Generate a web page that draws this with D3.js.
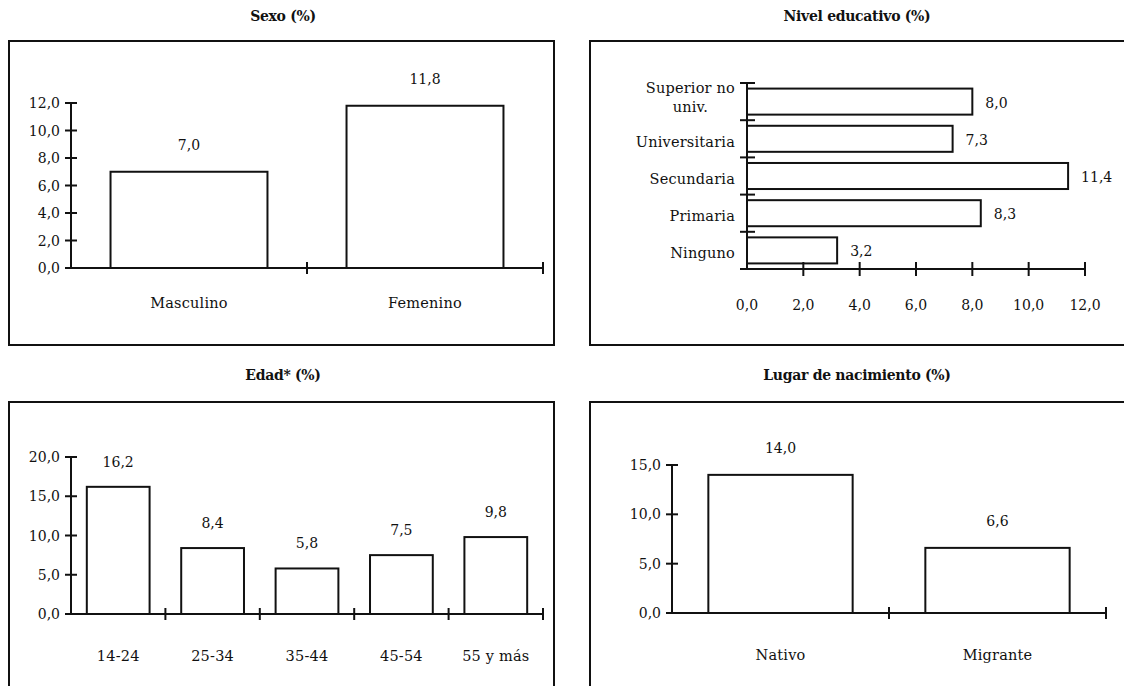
<!DOCTYPE html>
<html>
<head>
<meta charset="utf-8">
<script src="https://cdn.jsdelivr.net/npm/d3@7"></script>
<style>
  html, body { margin: 0; padding: 0; background: #fff; }
  svg { display: block; }
  text { font-family: "DejaVu Serif", serif; fill: #111; }
  .title { font-weight: bold; font-size: 14px; letter-spacing: -0.3px; }
  .word { font-size: 14.5px; letter-spacing: 0.2px; }
  .num { font-size: 14px; letter-spacing: 0px; }
</style>
</head>
<body>
<svg id="chart" width="1124" height="686"></svg>
<script>
// Sexo
const sexoCategories = ["Masculino", "Femenino"];
const sexoValues = [7.0, 11.8];
const sexoTicks = [0, 2, 4, 6, 8, 10, 12];

// Nivel educativo (top to bottom)
const nivelCategories = ["Superior no univ.", "Universitaria", "Secundaria", "Primaria", "Ninguno"];
const nivelValues = [8.0, 7.3, 11.4, 8.3, 3.2];
const nivelTicks = [0, 2, 4, 6, 8, 10, 12];

// Edad
const edadCategories = ["14-24", "25-34", "35-44", "45-54", "55 y más"];
const edadValues = [16.2, 8.4, 5.8, 7.5, 9.8];
const edadTicks = [0, 5, 10, 15, 20];

// Lugar de nacimiento
const lugarCategories = ["Nativo", "Migrante"];
const lugarValues = [14.0, 6.6];
const lugarTicks = [0, 5, 10, 15];

const es = d3.formatLocale({ decimal: ",", thousands: ".", grouping: [3], currency: ["", ""] });
const fmt = es.format(".1f");

const svg = d3.select("#chart");
const INK = "#111";
const SW = 2;

function frame(x, y, w, h, title, titleX, titleY) {
  svg.append("rect")
    .attr("x", x).attr("y", y).attr("width", w).attr("height", h)
    .attr("fill", "none").attr("stroke", INK).attr("stroke-width", SW);
  svg.append("text").attr("class", "title")
    .attr("x", titleX).attr("y", titleY)
    .attr("text-anchor", "middle").attr("dominant-baseline", "central")
    .text(title);
}

function tickLine(g, x1, y1, x2, y2) {
  g.append("line").attr("x1", x1).attr("y1", y1).attr("x2", x2).attr("y2", y2)
    .attr("stroke", INK).attr("stroke-width", SW);
}

// Vertical bar panel
function columnPanel(o) {
  const g = svg.append("g");
  const x = d3.scaleBand().domain(o.categories).range([o.x0, o.x1])
    .paddingInner(0.335).paddingOuter(0.1675);
  const y = d3.scaleLinear().domain([0, o.max]).range([o.y0, o.yTop]);

  g.selectAll("rect.bar").data(o.values).join("rect")
    .attr("class", "bar")
    .attr("x", (d, i) => x(o.categories[i]))
    .attr("y", d => y(d))
    .attr("width", x.bandwidth())
    .attr("height", d => y(0) - y(d))
    .attr("fill", "#fff").attr("stroke", INK).attr("stroke-width", SW);

  g.selectAll("text.val").data(o.values).join("text")
    .attr("class", "num")
    .attr("x", (d, i) => x(o.categories[i]) + x.bandwidth() / 2)
    .attr("y", d => y(d) - o.valOffset)
    .attr("text-anchor", "middle").attr("dominant-baseline", "central")
    .text(d => fmt(d));

  // y axis
  tickLine(g, o.x0, y(0), o.x0, y(o.max));
  o.ticks.forEach(t => {
    tickLine(g, o.x0 - 6, y(t), o.x0 + 6, y(t));
    g.append("text").attr("class", "num")
      .attr("x", o.x0 - 11).attr("y", y(t))
      .attr("text-anchor", "end").attr("dominant-baseline", "central")
      .text(fmt(t));
  });

  // x axis with ticks at band boundaries
  tickLine(g, o.x0, y(0), o.x1, y(0));
  const step = x.step();
  d3.range(1, o.categories.length + 1).forEach(i => {
    const xx = o.x0 + i * step;
    tickLine(g, xx, y(0) - 6, xx, y(0) + 6);
  });
  o.categories.forEach(c => {
    g.append("text").attr("class", "word")
      .attr("x", x(c) + x.bandwidth() / 2).attr("y", y(0) + o.labOffset)
      .attr("text-anchor", "middle").attr("dominant-baseline", "central")
      .text(c);
  });
}

// Horizontal bar panel
function barPanel(o) {
  const g = svg.append("g");
  const y = d3.scaleBand().domain(o.categories).range([o.yTop, o.y0])
    .paddingInner(0.3).paddingOuter(0.15);
  const x = d3.scaleLinear().domain([0, o.max]).range([o.x0, o.xMax]);

  g.selectAll("rect.bar").data(o.values).join("rect")
    .attr("class", "bar")
    .attr("x", x(0))
    .attr("y", (d, i) => y(o.categories[i]))
    .attr("width", d => x(d) - x(0))
    .attr("height", y.bandwidth())
    .attr("fill", "#fff").attr("stroke", INK).attr("stroke-width", SW);

  g.selectAll("text.val").data(o.values).join("text")
    .attr("class", "num")
    .attr("x", d => x(d) + 13)
    .attr("y", (d, i) => y(o.categories[i]) + y.bandwidth() / 2 + 1)
    .attr("text-anchor", "start").attr("dominant-baseline", "central")
    .text(d => fmt(d));

  // category axis
  tickLine(g, o.x0, o.yTop, o.x0, o.y0);
  const step = y.step();
  d3.range(o.categories.length + 1).forEach(i => {
    const yy = o.yTop + i * step;
    tickLine(g, o.x0 - 7, yy, o.x0 + 8, yy);
  });
  o.categories.forEach(c => {
    const cy = y(c) + y.bandwidth() / 2;
    const t = g.append("text").attr("class", "word")
      .attr("text-anchor", "middle").attr("dominant-baseline", "central");
    // wrap long labels into lines no wider than maxW
    const words = c.split(" ");
    const lines = [];
    let cur = [];
    words.forEach(w => {
      const trial = cur.concat([w]).join(" ");
      t.text(trial);
      if (cur.length && t.node().getComputedTextLength() > o.maxW) {
        lines.push(cur.join(" "));
        cur = [w];
      } else cur.push(w);
    });
    lines.push(cur.join(" "));
    t.text(null);
    const probe = g.append("text").attr("class", "word");
    const widths = lines.map(l => { probe.text(l); return probe.node().getComputedTextLength(); });
    probe.remove();
    const wMax = d3.max(widths);
    const cx = o.x0 - 12 - wMax / 2;
    const first = cy + 3 - (lines.length - 1) * 16.5;
    lines.forEach((l, i) => {
      t.append("tspan").attr("x", cx).attr("y", first + i * 19).text(l);
    });
  });

  // value axis
  tickLine(g, o.x0, o.y0, x(o.max), o.y0);
  o.ticks.forEach(v => {
    if (v > 0) tickLine(g, x(v), o.y0 - 7, x(v), o.y0 + 7);
    g.append("text").attr("class", "num")
      .attr("x", x(v)).attr("y", o.y0 + 36)
      .attr("text-anchor", "middle").attr("dominant-baseline", "central")
      .text(fmt(v));
  });
}

// Frames and titles
frame(9, 41, 545, 304, "Sexo (%)", 283, 16);
frame(590, 41, 560, 304, "Nivel educativo (%)", 857, 16);
frame(9, 402, 545, 320, "Edad* (%)", 283, 375);
frame(590, 402, 560, 320, "Lugar de nacimiento (%)", 857, 375);

columnPanel({ categories: sexoCategories, values: sexoValues, ticks: sexoTicks, max: 12,
  x0: 71, x1: 543, y0: 268, yTop: 103, valOffset: 27, labOffset: 35 });

barPanel({ categories: nivelCategories, values: nivelValues, ticks: nivelTicks, max: 12,
  x0: 747, xMax: 1085, yTop: 83, y0: 269, maxW: 110 });

columnPanel({ categories: edadCategories, values: edadValues, ticks: edadTicks, max: 20,
  x0: 71, x1: 543, y0: 614, yTop: 457, valOffset: 25, labOffset: 42 });

columnPanel({ categories: lugarCategories, values: lugarValues, ticks: lugarTicks, max: 15,
  x0: 672, x1: 1106, y0: 613, yTop: 465, valOffset: 27, labOffset: 42 });
</script>
</body>
</html>
